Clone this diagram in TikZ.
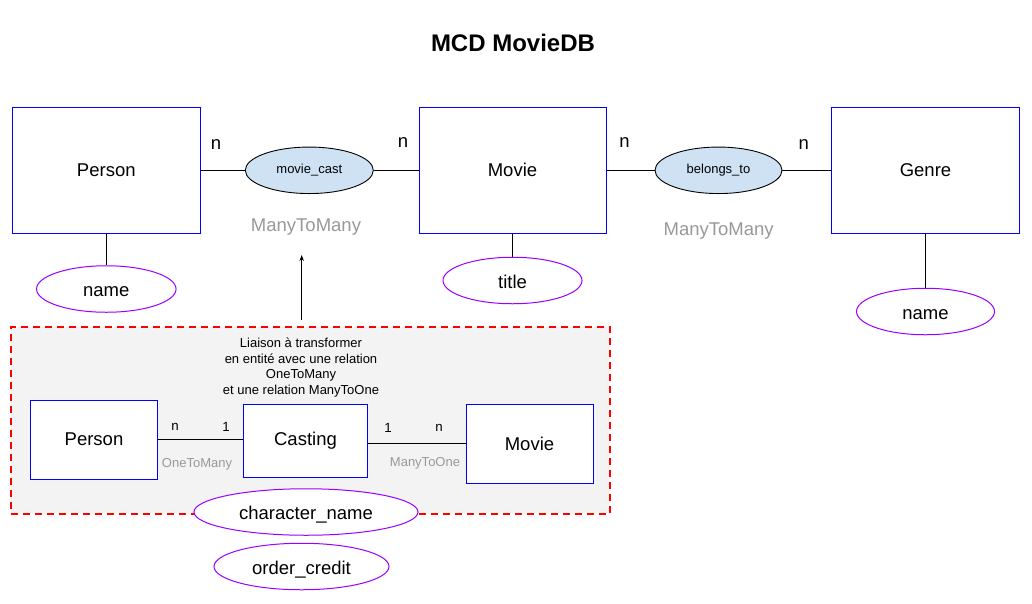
\documentclass[tikz,border=0pt]{standalone}
\usepackage{fontspec}
\setmainfont{Liberation Sans}
\usetikzlibrary{shapes.geometric,arrows.meta}
\definecolor{entblue}{HTML}{0000FF}
\definecolor{attrpurple}{HTML}{9900FF}
\definecolor{relfill}{HTML}{CFE2F3}
\definecolor{lblgray}{HTML}{999999}
\definecolor{boxfill}{HTML}{F3F3F3}
\definecolor{dashred}{HTML}{FF0000}
\newcommand{\fs}[1]{\fontsize{#1}{#1}\selectfont}
\tikzset{
  entity/.style={draw=entblue, line width=1pt, fill=white, rectangle, inner sep=0pt, font=\fs{18.5}},
  relation/.style={draw=black, line width=0.9pt, fill=relfill, ellipse, inner sep=0pt, font=\fs{13}},
  attribute/.style={draw=attrpurple, line width=1pt, fill=white, ellipse, inner sep=0pt, font=\fs{18.5}, text height=15.4pt, text depth=0pt},
  card/.style={font=\fs{18.5}, inner sep=0pt},
  smallcard/.style={font=\fs{13.3}, inner sep=0pt},
  kind/.style={text=lblgray, font=\fs{18.5}, inner sep=0pt},
  smallkind/.style={text=lblgray, font=\fs{13}, inner sep=0pt},
  link/.style={draw=black, line width=0.8pt},
}
\begin{document}
\begin{tikzpicture}[x=1pt,y=-1pt]
\useasboundingbox (0,0) rectangle (1032,603);
\fill[white] (0,0) rectangle (1032,603);

% title
\node[font=\bfseries\fs{24}, inner sep=0pt] (title) at (513,43) {MCD MovieDB};

% dashed region
\node[draw=dashred, dash pattern=on 7pt off 5pt, line width=1.4pt, fill=boxfill, rectangle,
      minimum width=599pt, minimum height=187pt, inner sep=0pt] (region) at (310.5,420.5) {};

% top entities
\node[entity, minimum width=188pt, minimum height=126pt] (person) at (106.3,170.3) {Person};
\node[entity, minimum width=187pt, minimum height=126pt] (movie) at (512.5,170.3) {Movie};
\node[entity, minimum width=187.5pt, minimum height=125.5pt] (genre) at (925.5,170.3) {Genre};

% relations
\node[relation, minimum width=128pt, minimum height=46.5pt] (mcast) at (309.3,170.3) {movie\_cast};
\node[relation, minimum width=127pt, minimum height=46.5pt] (belongs) at (718.5,170.3) {belongs\_to};

% attributes
\node[attribute, minimum width=139.5pt, minimum height=46.5pt] (pname) at (106.3,289) {name};
\node[attribute, minimum width=139pt, minimum height=46.5pt] (mtitle) at (512.5,280.5) {title};
\node[attribute, minimum width=138pt, minimum height=46.5pt] (gname) at (925.5,311.5) {name};

% connectors top
\draw[link] (person.east) -- (mcast.west);
\draw[link] (mcast.east) -- (movie.west);
\draw[link] (movie.east) -- (belongs.west);
\draw[link] (belongs.east) -- (genre.west);
\draw[link] (person.south) -- (pname.north);
\draw[link] (movie.south) -- (mtitle.north);
\draw[link] (genre.south) -- (gname.north);

% cardinalities top
\node[card] (n1) at (216,145) {n};
\node[card] (n2) at (403,143) {n};
\node[card] (n3) at (624.4,143) {n};
\node[card] (n4) at (803.7,145) {n};

\node[kind] (mm1) at (306,227) {ManyToMany};
\node[kind] (mm2) at (718.7,231.5) {ManyToMany};

% arrow
\coordinate (arrfrom) at (301.7,320);
\coordinate (arrto) at (301.7,255);
\draw[line width=0.8pt, -{Stealth[length=6pt,width=4.5pt]}] (arrfrom) -- (arrto);

% explanation
\node[font=\fs{13}, align=center, inner sep=0pt] (expl) at (301,367.5) {Liaison à transformer\\[2.6pt] en entité avec une relation\\[2.6pt] OneToMany\\[2.6pt] et une relation ManyToOne};

% lower entities
\node[entity, minimum width=127pt, minimum height=79pt] (lperson) at (94,439.5) {Person};
\node[entity, minimum width=124pt, minimum height=73pt] (casting) at (305.5,440.5) {Casting};
\node[entity, minimum width=127pt, minimum height=79pt] (lmovie) at (529.5,443.5) {Movie};

\draw[link] (lperson.east) -- (casting.west |- lperson.east);
\draw[link] (casting.east |- lmovie.west) -- (lmovie.west);

\node[smallcard] (c1) at (175,427) {n};
\node[smallcard] (c2) at (226,427) {1};
\node[smallcard] (c3) at (388,428) {1};
\node[smallcard] (c4) at (439,428) {n};

\node[smallkind] (otm) at (197,464) {OneToMany};
\node[smallkind] (mto) at (425,463) {ManyToOne};

% lower attributes
\node[attribute, minimum width=224pt, minimum height=46.5pt] (charname) at (306,512) {character\_name};
\node[attribute, minimum width=175pt, minimum height=46.5pt] (ordercredit) at (301.5,566.5) {order\_credit};
\end{tikzpicture}
\end{document}
